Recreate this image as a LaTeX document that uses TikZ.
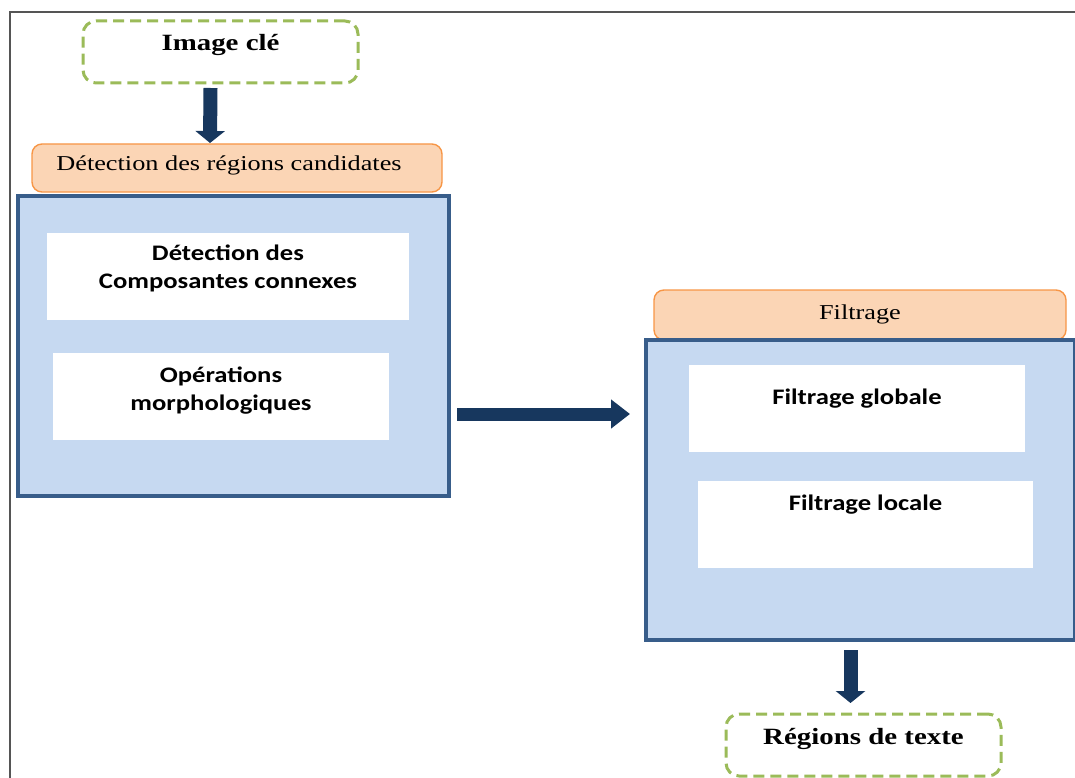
\documentclass[tikz,border=0pt]{standalone}
\usepackage{fontspec}
\setmainfont{Liberation Serif}
\newfontfamily\serw[FakeStretch=1.24]{Liberation Serif}
\newfontfamily\calw[FakeStretch=1.2]{Carlito}
\usetikzlibrary{arrows.meta}
\definecolor{dgreen}{HTML}{9BBB59}
\definecolor{navy}{HTML}{17375E}
\definecolor{ofill}{HTML}{FBD5B5}
\definecolor{oline}{HTML}{F79646}
\definecolor{bfill}{HTML}{C6D9F1}
\definecolor{bline}{HTML}{385D8A}
\definecolor{frame}{HTML}{555555}
\tikzset{
  endbox/.style={draw=dgreen, line width=3pt, dash pattern=on 11pt off 6pt, rounded corners=13pt, fill=white, inner sep=0pt, outer sep=0pt},
  hdr/.style={draw=oline, line width=1.4pt, fill=ofill, rounded corners=10pt, inner sep=0pt, outer sep=0pt},
  bluebox/.style={draw=bline, line width=3.3pt, fill=bfill, inner sep=0pt, outer sep=0pt},
  whitebox/.style={fill=white, inner sep=0pt, outer sep=0pt},
  serbold/.style={font=\serw\fontsize{23.3}{28}\selectfont\bfseries, inner sep=0pt},
  serreg/.style={font=\serw\fontsize{21.2}{26}\selectfont, inner sep=0pt},
  calbold/.style={font=\calw\fontsize{22.2}{28}\selectfont\bfseries, align=center, inner sep=0pt},
  bigarrow/.style={draw=navy, line width=14pt, -{Triangle[width=29pt,length=12pt]}, color=navy},
  sidearrow/.style={draw=navy, line width=13pt, -{Triangle[width=28pt,length=19pt]}, color=navy},
}
\begin{document}
\begin{tikzpicture}[x=1pt,y=-1pt]
\useasboundingbox (0,0) rectangle (1075,778);
% frame
\draw[frame, line width=1.8pt] (10,778) -- (10,12) -- (1075,12);

% left part
\node[endbox, minimum width=275, minimum height=62] (ic) at (220.5,52) {};
\node[serbold] (ict) at ([yshift=7pt]ic.center) {Image clé};

\node[hdr, minimum width=410, minimum height=48] (h1) at (237,168) {};
\node[serreg] (h1t) at ([xshift=-8pt,yshift=3pt]h1.center) {Détection des régions candidates};

\node[bluebox, minimum width=431, minimum height=300] (b1) at (233.5,346) {};
\node[whitebox, minimum width=362, minimum height=87] (wa) at (228,276.5) {};
\node[calbold] (wat) at ([yshift=8pt]wa.center) {Détection des\\Composantes connexes};
\node[whitebox, minimum width=336, minimum height=87] (wb) at (221,396.5) {};
\node[calbold] (wbt) at ([yshift=6pt]wb.center) {Opérations\\morphologiques};

% right part
\node[hdr, minimum width=412, minimum height=50] (h2) at (860,315) {};
\node[serreg] (h2t) at ([yshift=1pt]h2.center) {Filtrage};

\node[bluebox, minimum width=429, minimum height=300] (b2) at (860.5,490) {};
\node[whitebox, minimum width=336, minimum height=87] (wc) at (857,408.5) {};
\node[calbold] (wct) at ([yshift=10pt]wc.center) {Filtrage globale};
\node[whitebox, minimum width=335, minimum height=87] (wd) at (865.5,524.5) {};
\node[calbold] (wdt) at ([yshift=20pt]wd.center) {Filtrage locale};

\node[endbox, minimum width=275, minimum height=62] (rt) at (863.5,745) {};
\node[serbold] (rtt) at ([yshift=6pt]rt.center) {Régions de texte};

% arrows
\draw[bigarrow] ([xshift=-10pt,yshift=-5pt]ic.south) -- ([xshift=-27pt,yshift=1pt]h1.north);
\draw[sidearrow] ([xshift=8pt,yshift=-68pt]b1.east) -- ([xshift=-16pt,yshift=76pt]b2.west);
\draw[bigarrow] ([xshift=-10pt,yshift=-10pt]b2.south) -- ([xshift=-13pt,yshift=11pt]rt.north);
\end{tikzpicture}
\end{document}
